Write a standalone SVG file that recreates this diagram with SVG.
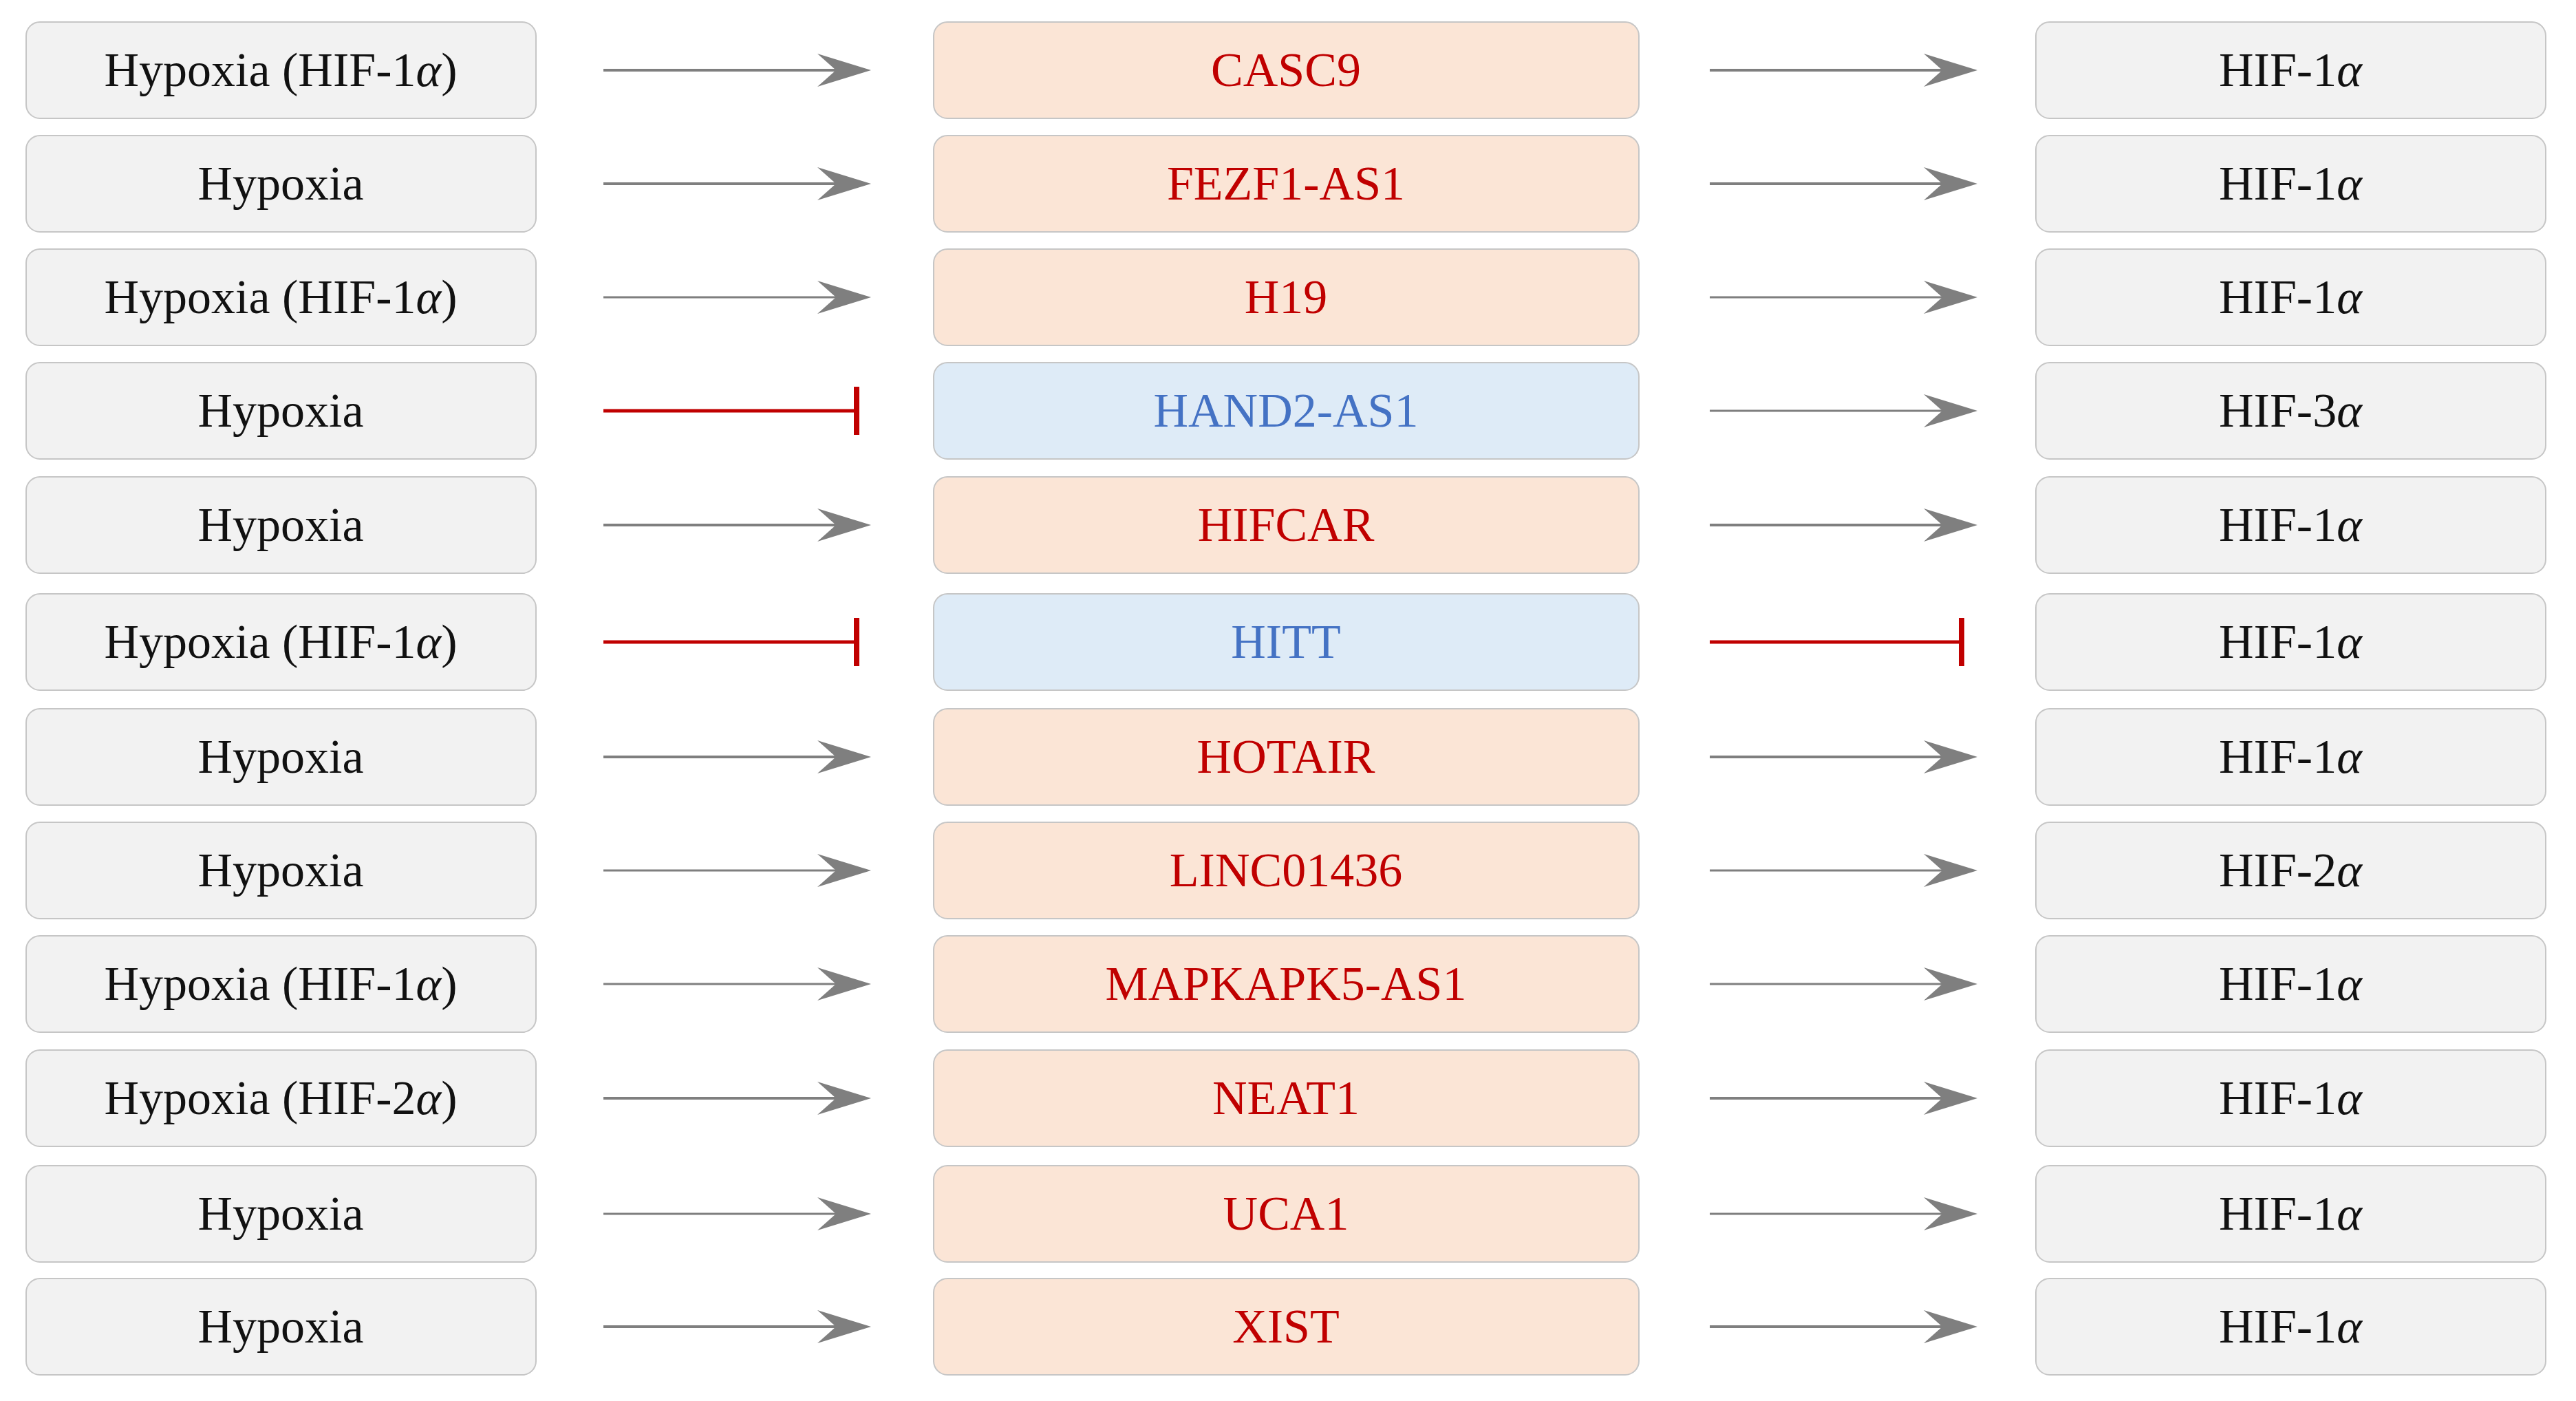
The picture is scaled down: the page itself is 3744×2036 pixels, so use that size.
<svg xmlns="http://www.w3.org/2000/svg" width="3744" height="2036" viewBox="0 0 3744 2036">
<style>
.box rect{stroke:#c6c6c6;stroke-width:2}
.g rect{fill:#f2f2f2}
.p rect{fill:#fbe5d6}
.b rect{fill:#deebf7}
text{font-family:"Liberation Serif","Times New Roman",serif;font-size:70px;text-anchor:middle}
.g text{fill:#111111}
.p text{fill:#c00000}
.b text{fill:#4472c4}
.al{stroke:#7f7f7f;stroke-width:4;fill:none;marker-end:url(#ah)}
.al.t{stroke-width:3}
.il{stroke:#c00000;stroke-width:5;fill:none}
.ib{stroke:#c00000;stroke-width:8;fill:none}
.it{font-style:italic}
</style>
<defs>
<marker id="ah" markerUnits="userSpaceOnUse" viewBox="0 0 78 48" markerWidth="78" markerHeight="48" refX="27" refY="24" orient="auto">
<path d="M0,0 L78,24 L0,48 L27,24 Z" fill="#7f7f7f"/>
</marker>
</defs>
<rect width="3744" height="2036" fill="#ffffff"/>

<g id="connectors">
<line class="al" x1="877" y1="102" x2="1215" y2="102"/>
<line class="al" x1="2485" y1="102" x2="2823" y2="102"/>
<line class="al" x1="877" y1="267" x2="1215" y2="267"/>
<line class="al" x1="2485" y1="267" x2="2823" y2="267"/>
<line class="al t" x1="877" y1="432" x2="1215" y2="432"/>
<line class="al t" x1="2485" y1="432" x2="2823" y2="432"/>
<line class="il" x1="877" y1="597" x2="1245" y2="597"/>
<line class="ib" x1="1245" y1="562" x2="1245" y2="632"/>
<line class="al t" x1="2485" y1="597" x2="2823" y2="597"/>
<line class="al" x1="877" y1="763" x2="1215" y2="763"/>
<line class="al" x1="2485" y1="763" x2="2823" y2="763"/>
<line class="il" x1="877" y1="933" x2="1245" y2="933"/>
<line class="ib" x1="1245" y1="898" x2="1245" y2="968"/>
<line class="il" x1="2485" y1="933" x2="2851" y2="933"/>
<line class="ib" x1="2851" y1="898" x2="2851" y2="968"/>
<line class="al" x1="877" y1="1100" x2="1215" y2="1100"/>
<line class="al" x1="2485" y1="1100" x2="2823" y2="1100"/>
<line class="al t" x1="877" y1="1265" x2="1215" y2="1265"/>
<line class="al t" x1="2485" y1="1265" x2="2823" y2="1265"/>
<line class="al t" x1="877" y1="1430" x2="1215" y2="1430"/>
<line class="al t" x1="2485" y1="1430" x2="2823" y2="1430"/>
<line class="al" x1="877" y1="1596" x2="1215" y2="1596"/>
<line class="al" x1="2485" y1="1596" x2="2823" y2="1596"/>
<line class="al t" x1="877" y1="1764" x2="1215" y2="1764"/>
<line class="al t" x1="2485" y1="1764" x2="2823" y2="1764"/>
<line class="al" x1="877" y1="1928" x2="1215" y2="1928"/>
<line class="al" x1="2485" y1="1928" x2="2823" y2="1928"/>
</g>

<!-- Row 1 -->
<g id="src1" class="box g"><rect x="38" y="32" width="741" height="140" rx="20"/><text x="408" y="125">Hypoxia (HIF-1<tspan class="it">α</tspan>)</text></g>
<g id="lnc1" class="box p"><rect x="1357" y="32" width="1025" height="140" rx="20"/><text x="1869" y="125">CASC9</text></g>
<g id="tgt1" class="box g"><rect x="2959" y="32" width="741" height="140" rx="20"/><text x="3329" y="125">HIF-1<tspan class="it">α</tspan></text></g>
<!-- Row 2 -->
<g id="src2" class="box g"><rect x="38" y="197" width="741" height="140" rx="20"/><text x="408" y="290">Hypoxia</text></g>
<g id="lnc2" class="box p"><rect x="1357" y="197" width="1025" height="140" rx="20"/><text x="1869" y="290">FEZF1-AS1</text></g>
<g id="tgt2" class="box g"><rect x="2959" y="197" width="741" height="140" rx="20"/><text x="3329" y="290">HIF-1<tspan class="it">α</tspan></text></g>
<!-- Row 3 -->
<g id="src3" class="box g"><rect x="38" y="362" width="741" height="140" rx="20"/><text x="408" y="455">Hypoxia (HIF-1<tspan class="it">α</tspan>)</text></g>
<g id="lnc3" class="box p"><rect x="1357" y="362" width="1025" height="140" rx="20"/><text x="1869" y="455">H19</text></g>
<g id="tgt3" class="box g"><rect x="2959" y="362" width="741" height="140" rx="20"/><text x="3329" y="455">HIF-1<tspan class="it">α</tspan></text></g>
<!-- Row 4 -->
<g id="src4" class="box g"><rect x="38" y="527" width="741" height="140" rx="20"/><text x="408" y="620">Hypoxia</text></g>
<g id="lnc4" class="box b"><rect x="1357" y="527" width="1025" height="140" rx="20"/><text x="1869" y="620">HAND2-AS1</text></g>
<g id="tgt4" class="box g"><rect x="2959" y="527" width="741" height="140" rx="20"/><text x="3329" y="620">HIF-3<tspan class="it">α</tspan></text></g>
<!-- Row 5 -->
<g id="src5" class="box g"><rect x="38" y="693" width="741" height="140" rx="20"/><text x="408" y="786">Hypoxia</text></g>
<g id="lnc5" class="box p"><rect x="1357" y="693" width="1025" height="140" rx="20"/><text x="1869" y="786">HIFCAR</text></g>
<g id="tgt5" class="box g"><rect x="2959" y="693" width="741" height="140" rx="20"/><text x="3329" y="786">HIF-1<tspan class="it">α</tspan></text></g>
<!-- Row 6 -->
<g id="src6" class="box g"><rect x="38" y="863" width="741" height="140" rx="20"/><text x="408" y="956">Hypoxia (HIF-1<tspan class="it">α</tspan>)</text></g>
<g id="lnc6" class="box b"><rect x="1357" y="863" width="1025" height="140" rx="20"/><text x="1869" y="956">HITT</text></g>
<g id="tgt6" class="box g"><rect x="2959" y="863" width="741" height="140" rx="20"/><text x="3329" y="956">HIF-1<tspan class="it">α</tspan></text></g>
<!-- Row 7 -->
<g id="src7" class="box g"><rect x="38" y="1030" width="741" height="140" rx="20"/><text x="408" y="1123">Hypoxia</text></g>
<g id="lnc7" class="box p"><rect x="1357" y="1030" width="1025" height="140" rx="20"/><text x="1869" y="1123">HOTAIR</text></g>
<g id="tgt7" class="box g"><rect x="2959" y="1030" width="741" height="140" rx="20"/><text x="3329" y="1123">HIF-1<tspan class="it">α</tspan></text></g>
<!-- Row 8 -->
<g id="src8" class="box g"><rect x="38" y="1195" width="741" height="140" rx="20"/><text x="408" y="1288">Hypoxia</text></g>
<g id="lnc8" class="box p"><rect x="1357" y="1195" width="1025" height="140" rx="20"/><text x="1869" y="1288">LINC01436</text></g>
<g id="tgt8" class="box g"><rect x="2959" y="1195" width="741" height="140" rx="20"/><text x="3329" y="1288">HIF-2<tspan class="it">α</tspan></text></g>
<!-- Row 9 -->
<g id="src9" class="box g"><rect x="38" y="1360" width="741" height="140" rx="20"/><text x="408" y="1453">Hypoxia (HIF-1<tspan class="it">α</tspan>)</text></g>
<g id="lnc9" class="box p"><rect x="1357" y="1360" width="1025" height="140" rx="20"/><text x="1869" y="1453">MAPKAPK5-AS1</text></g>
<g id="tgt9" class="box g"><rect x="2959" y="1360" width="741" height="140" rx="20"/><text x="3329" y="1453">HIF-1<tspan class="it">α</tspan></text></g>
<!-- Row 10 -->
<g id="src10" class="box g"><rect x="38" y="1526" width="741" height="140" rx="20"/><text x="408" y="1619">Hypoxia (HIF-2<tspan class="it">α</tspan>)</text></g>
<g id="lnc10" class="box p"><rect x="1357" y="1526" width="1025" height="140" rx="20"/><text x="1869" y="1619">NEAT1</text></g>
<g id="tgt10" class="box g"><rect x="2959" y="1526" width="741" height="140" rx="20"/><text x="3329" y="1619">HIF-1<tspan class="it">α</tspan></text></g>
<!-- Row 11 -->
<g id="src11" class="box g"><rect x="38" y="1694" width="741" height="140" rx="20"/><text x="408" y="1787">Hypoxia</text></g>
<g id="lnc11" class="box p"><rect x="1357" y="1694" width="1025" height="140" rx="20"/><text x="1869" y="1787">UCA1</text></g>
<g id="tgt11" class="box g"><rect x="2959" y="1694" width="741" height="140" rx="20"/><text x="3329" y="1787">HIF-1<tspan class="it">α</tspan></text></g>
<!-- Row 12 -->
<g id="src12" class="box g"><rect x="38" y="1858" width="741" height="140" rx="20"/><text x="408" y="1951">Hypoxia</text></g>
<g id="lnc12" class="box p"><rect x="1357" y="1858" width="1025" height="140" rx="20"/><text x="1869" y="1951">XIST</text></g>
<g id="tgt12" class="box g"><rect x="2959" y="1858" width="741" height="140" rx="20"/><text x="3329" y="1951">HIF-1<tspan class="it">α</tspan></text></g>
</svg>
